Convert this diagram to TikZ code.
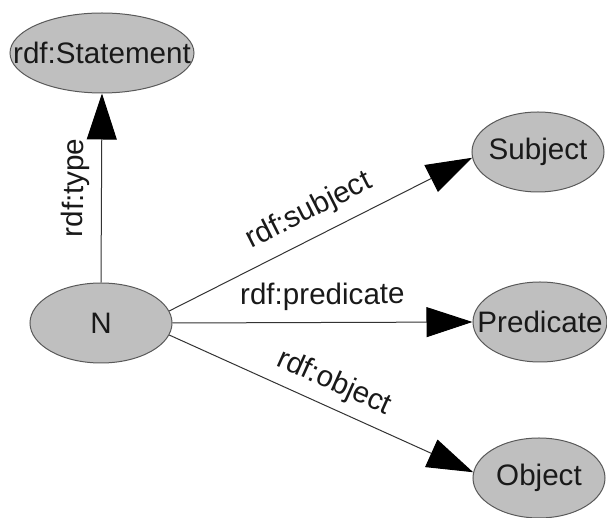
\documentclass[tikz,border=0pt]{standalone}
\usepackage{fontspec}
\setmainfont{Liberation Sans}
\usetikzlibrary{positioning,arrows.meta,shapes.geometric}

\begin{document}
\begin{tikzpicture}[x=0.5pt,y=-0.5pt,
  font=\fontsize{14.8}{17}\selectfont,
  term/.style={ellipse,draw=black!65,fill=black!25,line width=0.5pt,inner sep=0pt,minimum height=40pt,text=black!90},
  link/.style={draw=black!80,line width=0.5pt,-{Triangle[length=23pt,width=15pt,color=black]}},
  lbl/.style={sloped,above=2.5pt,text=black!90}]
  \useasboundingbox (0,0) rectangle (607,518);
  \node[term,minimum width=92pt] (stmt) at (102,53) {\makebox[0pt]{rdf:Statement}};
  \node[term,minimum width=71pt] (n) at (101,323) {\makebox[0pt]{N}};
  \node[term,minimum width=66pt] (subj) at (538,152) {\makebox[0pt]{Subject}};
  \node[term,minimum width=67pt] (pred) at (540,322) {\makebox[0pt]{Predicate}};
  \node[term,minimum width=66pt] (obj) at (539,478) {\makebox[0pt]{Object}};
  \draw[link] (n.north) -- node[lbl] {rdf:type} (stmt.south);
  \draw[link] (n.10) -- node[lbl,pos=.5] {rdf:subject} (subj.185);
  \draw[link] (n.east) -- node[lbl] {rdf:predicate} (pred.west);
  \draw[link] (n.-10) -- node[lbl,pos=.51,above=1.5pt] {rdf:object} (obj.175);
\end{tikzpicture}
\end{document}
